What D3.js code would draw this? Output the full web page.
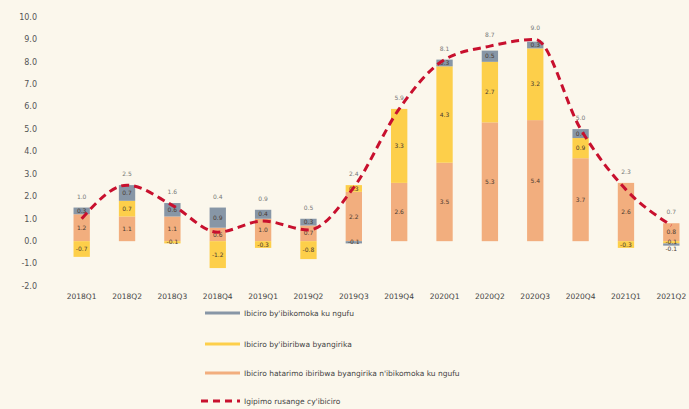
<!DOCTYPE html>
<html>
<head>
<meta charset="utf-8">
<script src="https://cdn.jsdelivr.net/npm/d3@7"></script>
<style>
  html, body { margin: 0; padding: 0; background: #FBF7EC; }
  svg { display: block; }
  text { font-family: "DejaVu Sans", "Liberation Sans", sans-serif; }
</style>
</head>
<body>
<svg id="chart" width="689" height="409"></svg>
<script>
// Quarterly inflation and the contribution of its components (percent)
const quarters = ["2018Q1","2018Q2","2018Q3","2018Q4","2019Q1","2019Q2","2019Q3",
                  "2019Q4","2020Q1","2020Q2","2020Q3","2020Q4","2021Q1","2021Q2"];
const coreValues   = [1.2, 1.1, 1.1, 0.6, 1.0, 0.7, 2.2, 2.6, 3.5, 5.3, 5.4, 3.7, 2.6, 0.8];
const foodValues   = [-0.7, 0.7, -0.1, -1.2, -0.3, -0.8, 0.3, 3.3, 4.3, 2.7, 3.2, 0.9, -0.3, -0.1];
const energyValues = [0.3, 0.7, 0.6, 0.9, 0.4, 0.3, -0.1, 0.0, 0.3, 0.5, 0.3, 0.4, 0.0, -0.1];
const headlineValues = [1.0, 2.5, 1.6, 0.4, 0.9, 0.5, 2.4, 5.9, 8.1, 8.7, 9.0, 5.0, 2.3, 0.7];
const yTicks = [-2, -1, 0, 1, 2, 3, 4, 5, 6, 7, 8, 9, 10];

const seriesNames = {
  energy: "Ibiciro by'ibikomoka ku ngufu",
  food: "Ibiciro by'ibiribwa byangirika",
  core: "Ibiciro hatarimo ibiribwa byangirika n'ibikomoka ku ngufu",
  headline: "Igipimo rusange cy'ibiciro"
};
const colors = { core: "#F2AE7E", food: "#FDCF4A", energy: "#8796A6", headline: "#C8102E" };

const rows = quarters.map((q, i) => ({
  q, core: coreValues[i], food: foodValues[i], energy: energyValues[i], headline: headlineValues[i]
}));

const svg = d3.select("#chart");

const x = d3.scaleBand().domain(quarters).range([59, 694]).paddingInner(0.64).paddingOuter(0.32);
const y = d3.scaleLinear().domain([-2, 10]).range([286, 17]);
const cx = q => x(q) + x.bandwidth() / 2;

// y axis labels
svg.append("g")
  .selectAll("text").data(yTicks).join("text")
  .attr("x", 37).attr("y", d => y(d)).attr("dy", "0.35em")
  .attr("text-anchor", "end").attr("font-size", 8).attr("fill", "#555")
  .text(d => d.toFixed(1));

// stacked component bars
const keys = ["core", "food", "energy"];
const stack = d3.stack().keys(keys).offset(d3.stackOffsetDiverging)(rows);

const layers = svg.append("g").selectAll("g").data(stack).join("g")
  .attr("fill", d => colors[d.key]);

layers.selectAll("rect").data(d => d.map(v => ({ v, key: d.key })))
  .join("rect")
  .attr("x", d => x(d.v.data.q))
  .attr("width", x.bandwidth())
  .attr("y", d => y(Math.max(d.v[0], d.v[1])))
  .attr("height", d => Math.abs(y(d.v[0]) - y(d.v[1])));

// value labels inside segments, nudged apart where segments are thin
const segLabels = [];
quarters.forEach((q, i) => {
  const own = [];
  stack.forEach(layer => {
    const v = layer[i];
    const val = rows[i][layer.key];
    if (val !== 0) own.push({ q, val, py: y((v[0] + v[1]) / 2) });
  });
  // positive labels pushed upward, negative ones downward
  const pos = own.filter(d => d.val > 0).sort((a, b) => b.py - a.py);
  for (let k = 1; k < pos.length; k++) {
    if (pos[k - 1].py - pos[k].py < 7) pos[k].py = pos[k - 1].py - 7;
  }
  const neg = own.filter(d => d.val < 0).sort((a, b) => a.py - b.py);
  for (let k = 1; k < neg.length; k++) {
    if (neg[k].py - neg[k - 1].py < 7) neg[k].py = neg[k - 1].py + 7;
  }
  segLabels.push(...pos, ...neg);
});
svg.append("g").selectAll("text").data(segLabels).join("text")
  .attr("x", d => cx(d.q))
  .attr("y", d => d.py).attr("dy", "0.35em")
  .attr("text-anchor", "middle").attr("font-size", 6).attr("fill", "#4a3a30")
  .text(d => d.val.toFixed(1));

// headline inflation line
const line = d3.line()
  .x(d => cx(d.q))
  .y(d => y(d.headline))
  .curve(d3.curveMonotoneX);
svg.append("path").datum(rows)
  .attr("d", line).attr("fill", "none")
  .attr("stroke", colors.headline).attr("stroke-width", 3)
  .attr("stroke-dasharray", "8,5");

// headline value labels above each bar
svg.append("g").selectAll("text").data(rows).join("text")
  .attr("x", d => cx(d.q))
  .attr("y", d => Math.min(y(d.headline), y(Math.max(0, d.core) + Math.max(0, d.food) + Math.max(0, d.energy))) - 9)
  .attr("text-anchor", "middle").attr("font-size", 6).attr("fill", "#777")
  .text(d => d.headline.toFixed(1));

// category labels
svg.append("g").selectAll("text").data(quarters).join("text")
  .attr("x", d => cx(d))
  .attr("y", 299)
  .attr("text-anchor", "middle").attr("font-size", 7.5).attr("fill", "#444")
  .text(d => d);

// legend
const legendItems = [
  { key: "energy", y: 313 },
  { key: "food", y: 344 },
  { key: "core", y: 373 },
  { key: "headline", y: 401 }
];
const lg = svg.append("g");
legendItems.forEach(item => {
  const isLine = item.key === "headline";
  lg.append("line")
    .attr("x1", isLine ? 201 : 205).attr("x2", 240)
    .attr("y1", item.y).attr("y2", item.y)
    .attr("stroke", colors[item.key])
    .attr("stroke-width", 3)
    .attr("stroke-dasharray", isLine ? "7,5" : null);
  lg.append("text")
    .attr("x", 244).attr("y", item.y).attr("dy", "0.35em")
    .attr("font-size", 7.5).attr("fill", "#444")
    .text(seriesNames[item.key]);
});
</script>
</body>
</html>
